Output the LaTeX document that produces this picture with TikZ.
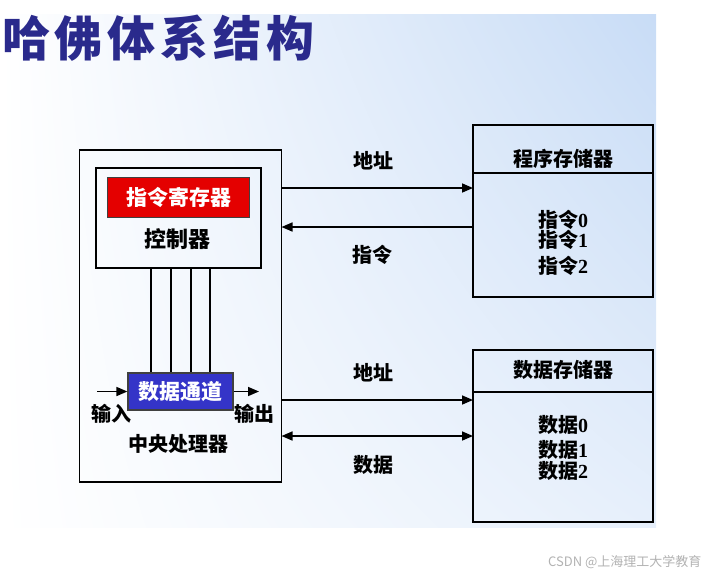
\documentclass[tikz,border=0pt]{standalone}
\usepackage{fontspec}
\setmainfont{Noto Sans CJK SC}
\newfontfamily\digitfont{Liberation Serif}
\usepackage{tikz}
\usetikzlibrary{
  arrows.meta,
  positioning,
  shadings
}
\definecolor{slideblue}{RGB}{200,220,246}
\definecolor{titleblue}{RGB}{42,42,140}
\definecolor{irred}{RGB}{228,0,0}
\definecolor{dpblue}{RGB}{52,52,200}
\definecolor{markgray}{RGB}{178,178,178}
\newcommand\memno[1]{{\digitfont\bfseries #1}}
\tikzset{
  lbl/.style={
    inner sep=0pt,
    font=\fontsize{20}{22}\selectfont\bfseries
  },
  frame/.style={
    draw=black,
    line width=1.8pt,
    outer sep=0pt,
    inner sep=0pt
  },
  filledbox/.style={
    draw=black!75,
    line width=1.2pt,
    fill=#1,
    text=white,
    inner sep=0pt,
    font=\fontsize{21}{23}\selectfont\bfseries
  },
  arrow/.style={
    -{Triangle[length=11pt,width=9pt]},
    line width=1.6pt
  },
  twoway/.style={
    {Triangle[length=11pt,width=9pt]}-{Triangle[length=11pt,width=9pt]},
    line width=1.6pt
  },
  wire/.style={line width=1.6pt}
}

\begin{document}
\begin{tikzpicture}[x=1pt, y=-1pt]
  \useasboundingbox (0,0) rectangle (714,576);
  % slide background
  \shade[upper left=white, upper right=slideblue,
    lower left=white, lower right=white!55!slideblue] (0,14) rectangle (656,527);
  \node[anchor=west, inner sep=0pt, text=titleblue,
    font=\fontsize{48}{50}\selectfont\bfseries\addfontfeature{LetterSpace=10}]
    (title) at (2,38) {哈佛体系结构};

  % central processor
  \node[frame, minimum width=202pt, minimum height=332pt] (cpu) at (180.5,316) {};
  \node[frame, minimum width=165pt, minimum height=100pt] (ctrl) at (178.5,218) {};
  \node[filledbox=irred, minimum width=142pt, minimum height=40pt,
    below=9pt of ctrl.north] (ir) {指令寄存器};
  \node[lbl, font=\fontsize{22}{24}\selectfont\bfseries] (ctrllbl) at (177,239) {控制器};
  \node[filledbox=dpblue, minimum width=105pt, minimum height=37pt] (dpath) at (180.5,391.5) {数据通道};
  \foreach \x in {151,171,191,210}
    \draw[wire] (ctrl.south -| \x,0) -- (dpath.north -| \x,0);
  \coordinate (in) at (97,391.5);
  \coordinate (out) at (259,391.5);
  \draw[arrow] (in) -- (dpath.west);
  \draw[arrow] (dpath.east) -- (out);
  \node[lbl] (inlbl) at (111,414) {输入};
  \node[lbl] (outlbl) at (254,414) {输出};
  \node[lbl] (cpulbl) at (178.5,444) {中央处理器};

  % program memory
  \node[frame, minimum width=180pt, minimum height=48pt] (pmemhead) at (563,149) {};
  \node[frame, minimum width=180pt, minimum height=124pt, below=0pt of pmemhead] (pmem) {};
  \node[lbl] (pmemlbl) at (563,158.5) {程序存储器};
  \node[lbl] (instr0) at (563,219.5) {指令\memno{0}};
  \node[lbl] (instr1) at (563,239.5) {指令\memno{1}};
  \node[lbl] (instr2) at (563,265.5) {指令\memno{2}};

  % data memory
  \node[frame, minimum width=180pt, minimum height=42pt] (dmemhead) at (563,371) {};
  \node[frame, minimum width=180pt, minimum height=130pt, below=0pt of dmemhead] (dmem) {};
  \node[lbl] (dmemlbl) at (563,369.5) {数据存储器};
  \node[lbl] (data0) at (563,424.5) {数据\memno{0}};
  \node[lbl] (data1) at (563,449.5) {数据\memno{1}};
  \node[lbl] (data2) at (563,471) {数据\memno{2}};

  % buses
  \coordinate (paddr) at (0,188);
  \coordinate (pins) at (0,227);
  \coordinate (daddr) at (0,400);
  \coordinate (ddata) at (0,436);
  \draw[arrow] (cpu.east |- paddr) -- (pmem.west |- paddr);
  \draw[arrow] (pmem.west |- pins) -- (cpu.east |- pins);
  \draw[arrow] (cpu.east |- daddr) -- (dmem.west |- daddr);
  \draw[twoway] (cpu.east |- ddata) -- (dmem.west |- ddata);
  \node[lbl] (paddrlbl) at (373,160.5) {地址};
  \node[lbl] (pinslbl) at (372.5,254.5) {指令};
  \node[lbl] (daddrlbl) at (373,372.5) {地址};
  \node[lbl] (ddatalbl) at (373,465) {数据};

  \node[anchor=west, inner sep=0pt, text=markgray,
    font=\fontsize{13}{15}\selectfont] (mark) at (548,562) {CSDN @上海理工大学教育};
\end{tikzpicture}
\end{document}
